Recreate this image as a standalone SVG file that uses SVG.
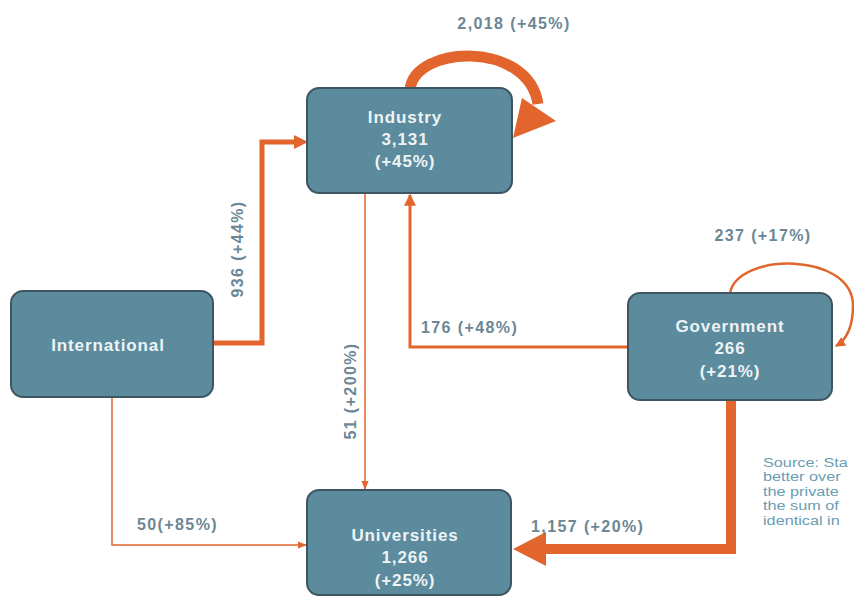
<svg xmlns="http://www.w3.org/2000/svg" width="854" height="596" viewBox="0 0 854 596">
<defs>
<style>
.box{fill:#5b8b9d;stroke:#3d5661;stroke-width:2}
.nt{font-family:"Liberation Sans",Arial,sans-serif;font-weight:bold;font-size:17px;letter-spacing:0.9px;fill:#eef3f5;text-anchor:middle}
.lb{font-family:"Liberation Sans",Arial,sans-serif;font-weight:bold;font-size:16px;letter-spacing:1.4px;fill:#6b8795}
.src{font-family:"Liberation Sans",Arial,sans-serif;font-size:12.5px;fill:#6a9db3}
.c{fill:none;stroke:#e1652d;stroke-linejoin:miter}
.ah{fill:#e1652d}
</style>
<marker id="sm" viewBox="0 0 10 10" refX="9" refY="5" markerWidth="4" markerHeight="4" orient="auto" markerUnits="strokeWidth"><path d="M0,0 L10,5 L0,10 Z" fill="#e1652d"/></marker>
<marker id="tm" viewBox="0 0 10 10" refX="9" refY="5" markerWidth="6" markerHeight="6" orient="auto" markerUnits="strokeWidth"><path d="M0,1 L10,5 L0,9 Z" fill="#e1652d"/></marker>
</defs>
<rect width="854" height="596" fill="#ffffff"/>
<g id="connectors">
<path class="c" d="M213,343 H262 V142 H296" stroke-width="5"/>
<polygon class="ah" points="294,135 308,142 294,149"/>
<path class="c" d="M410,90 C414,45 528,40 538,104" stroke-width="11" stroke-linecap="butt"/>
<polygon class="ah" points="522,98 556,121 513,138"/>
<path class="c" d="M365,193 V489" stroke-width="1.5" marker-end="url(#tm)"/>
<path class="c" d="M628,347 H410 V195" stroke-width="3" marker-end="url(#sm)"/>
<path class="c" d="M730,293 C738,252 852,252 853,305 C853,328 846,340 836,346" stroke-width="2.5" marker-end="url(#sm)"/>
<path class="c" d="M112,397 V545 H306" stroke-width="1.5" marker-end="url(#tm)"/>
<path class="c" d="M731,400 V549 H540" stroke-width="10"/>
<polygon class="ah" points="546,532 546,566 513,549"/>
</g>
<g id="labels">
<text class="lb" x="514" y="29" text-anchor="middle">2,018 (+45%)</text>
<text class="lb" transform="translate(243,249) rotate(-90)" text-anchor="middle">936 (+44%)</text>
<text class="lb" transform="translate(356,391) rotate(-90)" text-anchor="middle">51 (+200%)</text>
<text class="lb" x="421" y="333">176 (+48%)</text>
<text class="lb" x="763" y="241" text-anchor="middle">237 (+17%)</text>
<text class="lb" x="137" y="530">50(+85%)</text>
<text class="lb" x="531" y="532">1,157 (+20%)</text>
</g>
<g id="industry">
<rect class="box" x="307" y="88" width="205" height="105" rx="12"/>
<text class="nt" x="405" y="123">Industry</text>
<text class="nt" x="405" y="145">3,131</text>
<text class="nt" x="405" y="167">(+45%)</text>
</g>
<g id="international">
<rect class="box" x="11" y="291" width="202" height="106" rx="12"/>
<text class="nt" x="108" y="351">International</text>
</g>
<g id="government">
<rect class="box" x="628" y="293" width="204" height="107" rx="12"/>
<text class="nt" x="730" y="332">Government</text>
<text class="nt" x="730" y="354">266</text>
<text class="nt" x="730" y="377">(+21%)</text>
</g>
<g id="universities">
<rect class="box" x="307" y="490" width="204" height="105" rx="12"/>
<text class="nt" x="405" y="541">Universities</text>
<text class="nt" x="405" y="563">1,266</text>
<text class="nt" x="405" y="586">(+25%)</text>
</g>
<g id="source" transform="translate(763,0) scale(1.3,1)">
<text class="src" x="0" y="467">Source: Sta</text>
<text class="src" x="0" y="481.5">better over</text>
<text class="src" x="0" y="496">the private</text>
<text class="src" x="0" y="510.5">the sum of</text>
<text class="src" x="0" y="525">identical in</text>
</g>
</svg>
